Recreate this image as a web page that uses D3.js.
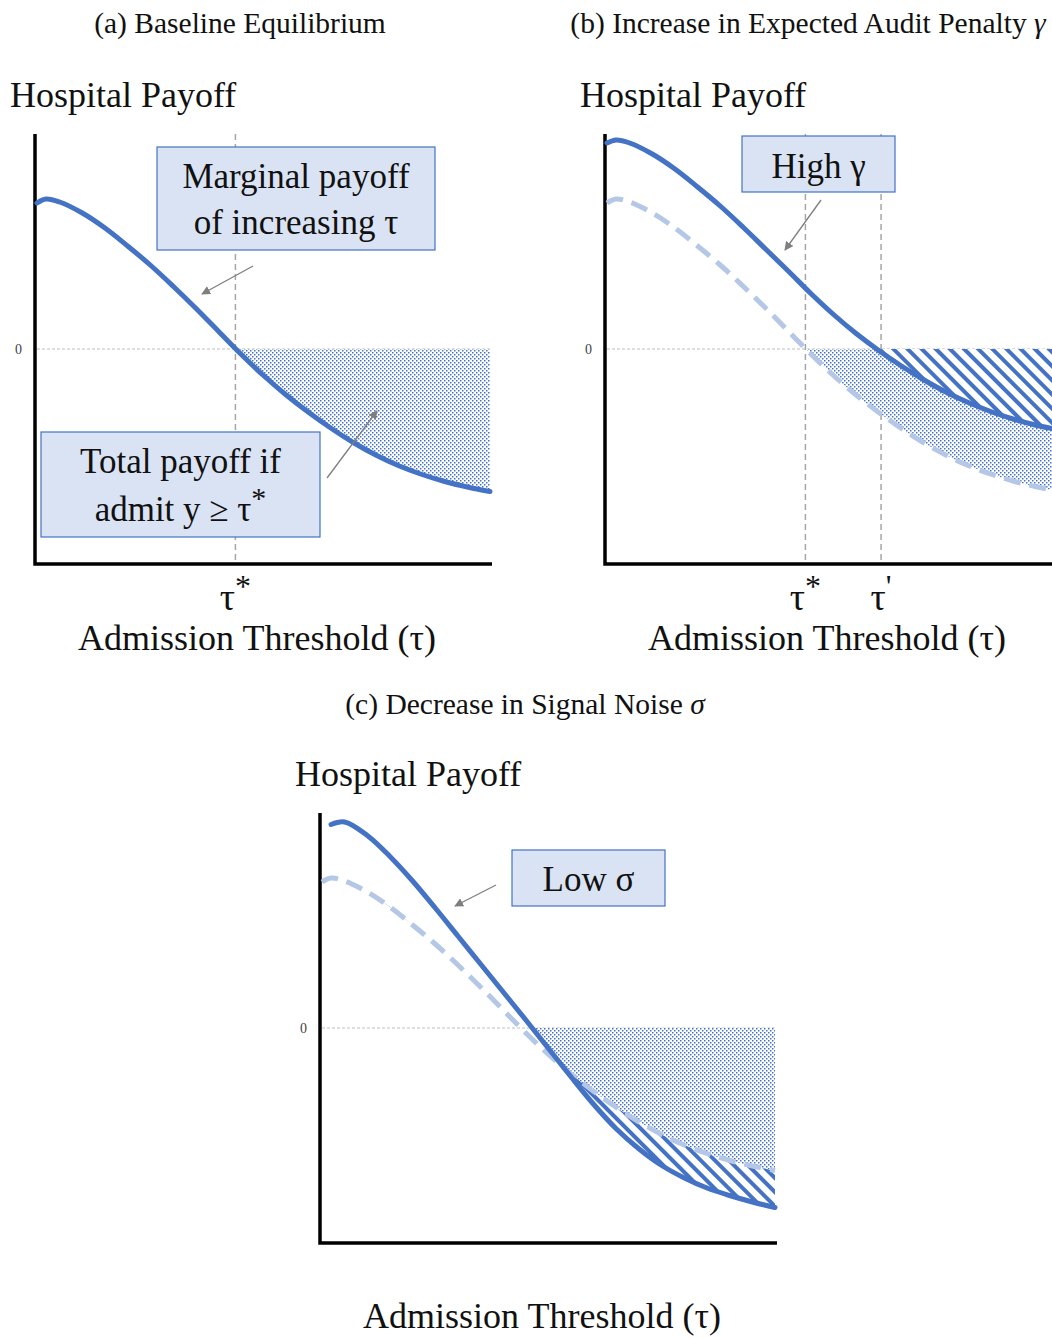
<!DOCTYPE html>
<html>
<head>
<meta charset="utf-8">
<title>Hospital payoff and admission threshold</title>
<style>
  body { margin: 0; background: #fff; }
  svg { display: block; }
  .serif { font-family: "Liberation Serif", "Times New Roman", serif; fill: #111; }
</style>
</head>
<body>
<div id="chart"></div>
<script src="https://d3js.org/d3.v7.min.js"></script>
<script>
// threshold grid shared by every curve
const tau = [0, 0.2, 0.5, 1, 1.5, 2, 2.5, 3, 3.5, 4, 4.5, 5, 5.5, 6, 6.5, 7, 7.5, 8, 8.5, 9, 9.5, 10];

// baseline marginal payoff (panel a, dashed reference in b and c)
const baseline = [2.92, 3.0, 2.94, 2.72, 2.42, 2.06, 1.68, 1.26, 0.82, 0.36, -0.10, -0.53, -0.92, -1.27, -1.59, -1.88, -2.13, -2.34, -2.51, -2.65, -2.76, -2.85];
// higher expected audit penalty (panel b)
const highGamma = [4.12, 4.18, 4.12, 3.9, 3.6, 3.24, 2.86, 2.44, 2.0, 1.56, 1.11, 0.69, 0.31, -0.03, -0.34, -0.62, -0.87, -1.08, -1.26, -1.41, -1.53, -1.62];
// lower signal noise (panel c)
const lowSigma = [null, 4.07, 4.12, 3.85, 3.43, 2.94, 2.4, 1.84, 1.28, 0.72, 0.16, -0.41, -0.98, -1.53, -2.02, -2.42, -2.75, -3.0, -3.2, -3.35, -3.48, -3.59];

const tauStar = 4.38;
const tauPrime = 6.05;
const yTicks = [0];

const W = 1052, H = 1338;
const blue = "#4472C4", lightBlue = "#B4C7E7", boxFill = "#DAE3F3", grey = "#7f7f7f";
const curve = d3.curveCatmullRom.alpha(0.5);

const svg = d3.select("#chart").append("svg")
  .attr("width", W).attr("height", H);

const defs = svg.append("defs");

// dotted fill
const dots = defs.append("pattern")
  .attr("id", "dots").attr("patternUnits", "userSpaceOnUse")
  .attr("width", 4).attr("height", 4);
dots.append("rect").attr("width", 4).attr("height", 4).attr("fill", "#fff");
dots.append("rect").attr("x", 0).attr("y", 0).attr("width", 1.5).attr("height", 1.5).attr("fill", blue);
dots.append("rect").attr("x", 2).attr("y", 2).attr("width", 1.5).attr("height", 1.5).attr("fill", blue);

// wide downward diagonal hatch
const hatch = defs.append("pattern")
  .attr("id", "hatch").attr("patternUnits", "userSpaceOnUse")
  .attr("width", 10).attr("height", 10)
  .attr("patternTransform", "rotate(-45)");
hatch.append("rect").attr("width", 10).attr("height", 10).attr("fill", "#fff");
hatch.append("line").attr("x1", 5).attr("y1", -2).attr("x2", 5).attr("y2", 12)
  .attr("stroke", blue).attr("stroke-width", 4);

defs.append("marker")
  .attr("id", "arrow").attr("viewBox", "0 -5 10 10")
  .attr("refX", 9).attr("refY", 0)
  .attr("markerWidth", 9).attr("markerHeight", 9)
  .attr("markerUnits", "userSpaceOnUse")
  .attr("orient", "auto")
  .append("path").attr("d", "M0,-5L10,0L0,5Z").attr("fill", grey);

function series(vals) {
  return tau.map((t, i) => ({ t, v: vals[i] }));
}

let clipId = 0;

function panel(opt) {
  const x = d3.scaleLinear().domain([0, 10]).range([opt.x0, opt.x0 + 453]);
  const y = d3.scaleLinear().domain([-4.3, 4.3]).range([opt.zeroY + 215, opt.zeroY - 215]);
  const g = svg.append("g");

  const line = d3.line()
    .defined(d => d.v != null)
    .x(d => x(d.t)).y(d => y(d.v))
    .curve(curve);
  const areaToZero = d3.area()
    .defined(d => d.v != null)
    .x(d => x(d.t)).y0(y(0)).y1(d => y(d.v))
    .curve(curve);

  // clip: everything below the zero line
  const belowId = "below" + (clipId++);
  defs.append("clipPath").attr("id", belowId)
    .append("rect").attr("x", x(0)).attr("y", y(0))
    .attr("width", x(10) - x(0)).attr("height", y(-4.3) - y(0));

  g.append("text").attr("class", "serif")
    .attr("x", opt.titleX).attr("y", opt.titleY)
    .attr("text-anchor", "middle").style("font-size", "29.5px")
    .html(opt.title);

  g.append("text").attr("class", "serif")
    .attr("x", opt.x0 - 27).attr("y", opt.zeroY - 242)
    .style("font-size", "36px").text("Hospital Payoff");

  g.append("text").attr("class", "serif")
    .attr("x", opt.x0 + 220).attr("y", opt.axisLabelY)
    .attr("text-anchor", "middle").style("font-size", "36px")
    .text("Admission Threshold (τ)");

  // zero reference
  g.selectAll(".zero").data(yTicks).join("line")
    .attr("x1", x(0)).attr("x2", x(10))
    .attr("y1", d => y(d)).attr("y2", d => y(d))
    .attr("stroke", "#bfbfbf").attr("stroke-width", 1).attr("stroke-dasharray", "3,2");
  g.selectAll(".zl").data(yTicks).join("text").attr("class", "serif")
    .attr("x", x(0) - 22).attr("y", d => y(d) + 5)
    .style("font-size", "14px").style("fill", "#444").text(d => d);

  // threshold markers
  (opt.thresholds || []).forEach(th => {
    g.append("line")
      .attr("x1", x(th.t)).attr("x2", x(th.t))
      .attr("y1", y(4.3)).attr("y2", y(-4.3))
      .attr("stroke", "#a6a6a6").attr("stroke-width", 1.5).attr("stroke-dasharray", "6,4");
    const lab = g.append("text").attr("class", "serif")
      .attr("x", x(th.t)).attr("y", y(-4.3) + 46)
      .attr("text-anchor", "middle").style("font-size", "38px");
    lab.append("tspan").text("τ");
    lab.append("tspan").attr("dy", -13).style("font-size", "32px").text(th.mark);
  });

  return { g, x, y, line, areaToZero, belowId };
}

function axes(p) {
  const { g, x, y } = p;
  g.append("path")
    .attr("d", `M${x(0) - 2},${y(4.3)}V${y(-4.3)}H${x(10) + 2}`)
    .attr("fill", "none").attr("stroke", "#000").attr("stroke-width", 3.5);
}

function drawLine(p, data, dashed) {
  p.g.append("path").datum(data)
    .attr("d", p.line)
    .attr("fill", "none")
    .attr("stroke", dashed ? lightBlue : blue)
    .attr("stroke-width", 5)
    .attr("stroke-linecap", dashed ? "butt" : "round")
    .attr("stroke-dasharray", dashed ? "17,9" : null);
}

function box(g, x, y, w, h, lines, size, baselines) {
  g.append("rect").attr("x", x).attr("y", y).attr("width", w).attr("height", h)
    .attr("fill", boxFill).attr("stroke", blue).attr("stroke-width", 1.2);
  lines.forEach((l, i) => {
    g.append("text").attr("class", "serif")
      .attr("x", x + w / 2).attr("y", baselines[i])
      .attr("text-anchor", "middle").style("font-size", size + "px")
      .html(l);
  });
}

function arrow(g, x1, y1, x2, y2) {
  g.append("line").attr("x1", x1).attr("y1", y1).attr("x2", x2).attr("y2", y2)
    .attr("stroke", grey).attr("stroke-width", 1.3).attr("marker-end", "url(#arrow)");
}

const base = series(baseline);
const high = series(highGamma);
const low = series(lowSigma);

// ---------- (a) baseline ----------
const pa = panel({
  x0: 37, zeroY: 349, titleX: 240, titleY: 33, axisLabelY: 650,
  title: "(a) Baseline Equilibrium",
  thresholds: [{ t: tauStar, mark: "*" }]
});
pa.g.append("path").datum(base)
  .attr("clip-path", `url(#${pa.belowId})`)
  .attr("d", pa.areaToZero).attr("fill", "url(#dots)");
axes(pa);
drawLine(pa, base, false);
box(pa.g, 157, 147, 278, 103, ["Marginal payoff", "of increasing τ"], 35, [188, 234]);
arrow(pa.g, 253, 266, 202, 294);
box(pa.g, 41, 432, 279, 105, ["Total payoff if", "admit y ≥ τ<tspan dy='-13' font-size='30'>*</tspan>"], 35, [473, 521]);
arrow(pa.g, 327, 478, 377, 411);

// ---------- (b) higher audit penalty ----------
const pb = panel({
  x0: 607, zeroY: 349, titleX: 808, titleY: 33, axisLabelY: 650,
  title: "(b) Increase in Expected Audit Penalty <tspan font-style='italic'>γ</tspan>",
  thresholds: [{ t: tauStar, mark: "*" }, { t: tauPrime, mark: "'" }]
});
pb.g.append("path").datum(base)
  .attr("clip-path", `url(#${pb.belowId})`)
  .attr("d", pb.areaToZero).attr("fill", "url(#dots)");
pb.g.append("path").datum(high)
  .attr("clip-path", `url(#${pb.belowId})`)
  .attr("d", pb.areaToZero).attr("fill", "url(#hatch)");
axes(pb);
drawLine(pb, base, true);
drawLine(pb, high, false);
box(pb.g, 742, 136, 153, 56, ["High γ"], 35, [178]);
arrow(pb.g, 821, 200, 785, 250);

// ---------- (c) lower signal noise ----------
const pc = panel({
  x0: 322, zeroY: 1028, titleX: 525, titleY: 714, axisLabelY: 1328,
  title: "(c) Decrease in Signal Noise <tspan font-style='italic'>σ</tspan>",
  thresholds: []
});
// region above the low-noise curve, and region below the baseline curve
defs.append("clipPath").attr("id", "aboveLow").append("path").datum(low)
  .attr("d", d3.area().defined(d => d.v != null)
    .x(d => pc.x(d.t)).y0(pc.y(4.3)).y1(d => pc.y(d.v)).curve(curve));
defs.append("clipPath").attr("id", "belowBase").append("path").datum(base)
  .attr("d", d3.area()
    .x(d => pc.x(d.t)).y0(pc.y(-4.3)).y1(d => pc.y(d.v)).curve(curve));

pc.g.append("g").attr("clip-path", `url(#${pc.belowId})`)
  .append("path").datum(base)
  .attr("clip-path", "url(#aboveLow)")
  .attr("d", pc.areaToZero).attr("fill", "url(#dots)");

// hatch between the baseline and the low-noise curve where the latter is lower
const gap = tau.map((t, i) => ({ t, a: baseline[i], b: lowSigma[i] }));
pc.g.append("path").datum(gap)
  .attr("clip-path", "url(#belowBase)")
  .attr("d", d3.area().defined(d => d.b != null)
    .x(d => pc.x(d.t)).y0(d => pc.y(d.a)).y1(d => pc.y(d.b)).curve(curve))
  .attr("fill", "url(#hatch)");
axes(pc);
drawLine(pc, base, true);
drawLine(pc, low, false);
box(pc.g, 512, 850, 153, 56, ["Low σ"], 35, [891]);
arrow(pc.g, 496, 885, 455, 906);
</script>
</body>
</html>
